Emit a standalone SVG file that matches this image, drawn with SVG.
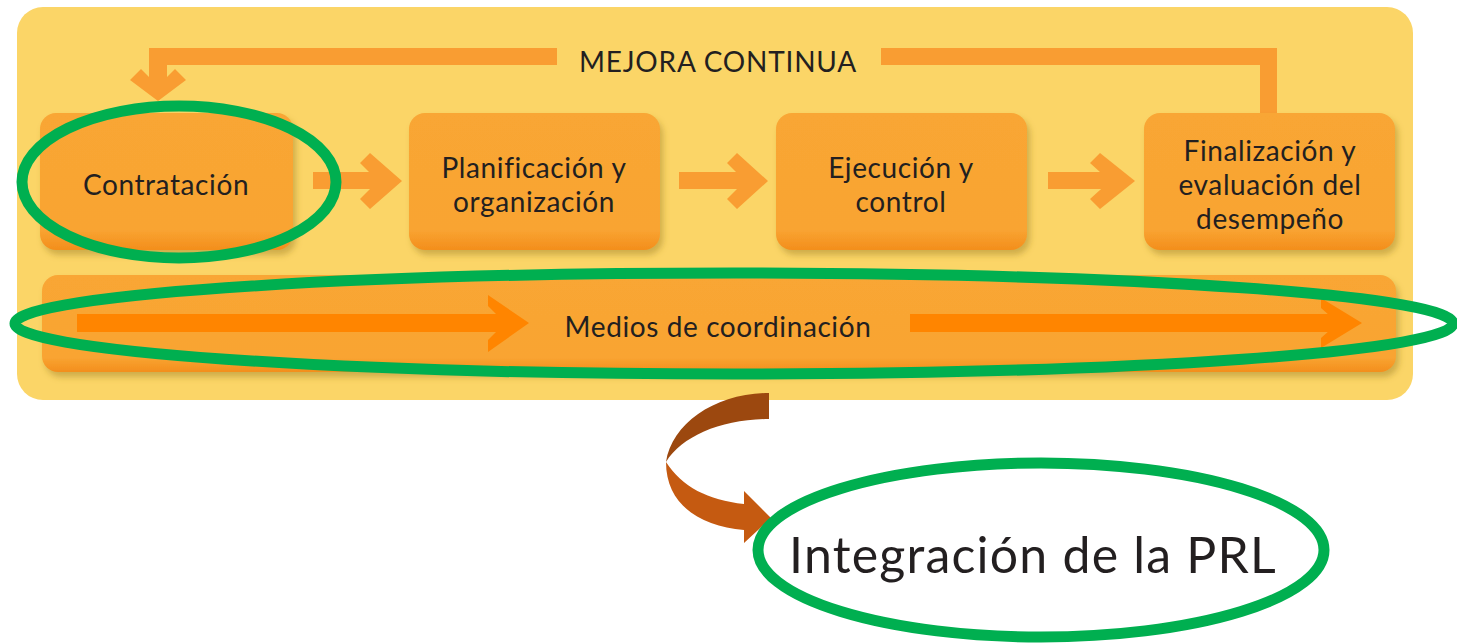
<svg xmlns="http://www.w3.org/2000/svg" width="1457" height="644" viewBox="0 0 1457 644">
  <defs>
    <filter id="sh" x="-10%" y="-10%" width="125%" height="135%">
      <feDropShadow dx="3" dy="5" stdDeviation="3" flood-color="#9a7a20" flood-opacity="0.45"/>
    </filter>
    <linearGradient id="boxg" x1="0" y1="0" x2="0" y2="1">
      <stop offset="0" stop-color="#F9A634"/>
      <stop offset="0.85" stop-color="#F9A432"/>
      <stop offset="1" stop-color="#F38E1C"/>
    </linearGradient>
    <style>
      .box { fill: url(#boxg); filter: url(#sh); }
      .t { font-family: Lato, "Noto Sans", sans-serif; fill: #231F20; text-anchor: middle; }
      .bt { font-size: 28px; letter-spacing: 0.6px; }
      .fb { fill: #F99D32; }
      .ba { fill: #FF8500; }
      .ring { fill: none; stroke: #00AF50; stroke-width: 11; }
    </style>
  </defs>

  <rect id="panel" x="17" y="7" width="1396" height="393" rx="26" fill="#FBD567"/>

  <g id="connectors">
    <!-- feedback loop -->
    <rect class="fb" x="149" y="48" width="408" height="17"/>
    <rect class="fb" x="881" y="48" width="396" height="17"/>
    <rect class="fb" x="1260" y="48" width="17" height="66"/>
    <rect class="fb" x="149" y="48" width="18" height="40"/>
    <polygon class="fb" points="130,80 141,69 158,86 175,69 186,80 158,101"/>
    <!-- step arrows -->
    <g class="fb">
      <rect x="313" y="172" width="66" height="17"/>
      <polygon points="360,163 370,153 402,181 370,209 360,199 378,181"/>
      <rect x="679" y="172" width="66" height="17"/>
      <polygon points="727,163 737,153 768,181 737,209 727,199 745,181"/>
      <rect x="1048" y="172" width="62" height="17"/>
      <polygon points="1090,163 1100,153 1135,181 1100,209 1090,199 1110,181"/>
    </g>
    <!-- curved arrow to PRL -->
    <g id="curved-arrow">
      <path d="M769,393 L769,419 C722,419 682,436 666,462 C672,423 716,393 769,393 Z" fill="#9C480F"/>
      <path d="M666,462 C682,487 708,500 744,504 L744,491 L771,518 L744,543 L744,530 C700,526 666,505 666,462 Z" fill="#C55A11"/>
    </g>
  </g>

  <g id="n1">
    <rect class="box" x="40" y="113" width="253" height="137" rx="16"/>
    <text class="t bt" x="166" y="195">Contratación</text>
  </g>
  <g id="n2">
    <rect class="box" x="409" y="113" width="251" height="137" rx="16"/>
    <text class="t bt" x="534" y="178">Planificación y</text>
    <text class="t bt" x="534" y="212">organización</text>
  </g>
  <g id="n3">
    <rect class="box" x="776" y="113" width="251" height="137" rx="16"/>
    <text class="t bt" x="901" y="178">Ejecución y</text>
    <text class="t bt" x="901" y="212">control</text>
  </g>
  <g id="n4">
    <rect class="box" x="1144" y="113" width="251" height="137" rx="16"/>
    <text class="t bt" x="1270" y="161">Finalización y</text>
    <text class="t bt" x="1270" y="195">evaluación del</text>
    <text class="t bt" x="1270" y="229">desempeño</text>
  </g>
  <g id="label-mejora">
    <text class="t" x="718" y="72" font-size="28" letter-spacing="0.8">MEJORA CONTINUA</text>
  </g>
  <g id="n5">
    <rect class="box" x="42" y="275" width="1354" height="97" rx="16"/>
    <rect class="ba" x="77" y="314" width="428" height="18"/>
    <polygon class="ba" points="488,306 488,295 529,323 488,352 488,340 505,323"/>
    <rect class="ba" x="910" y="314" width="428" height="18"/>
    <polygon class="ba" points="1321,308 1321,298 1362,323 1321,348 1321,338 1338,323"/>
    <text class="t bt" x="718" y="337">Medios de coordinación</text>
  </g>

  <g id="highlights">
    <ellipse class="ring" cx="179" cy="182" rx="157" ry="76"/>
    <ellipse class="ring" cx="734" cy="323.5" rx="719" ry="50.5"/>
  </g>

  <g id="n6">
    <ellipse class="ring" cx="1041" cy="550" rx="283" ry="87" stroke-width="12"/>
    <text class="t" x="1033" y="573" font-size="50" letter-spacing="1.2" fill="#000">Integración de la PRL</text>
  </g>
</svg>
